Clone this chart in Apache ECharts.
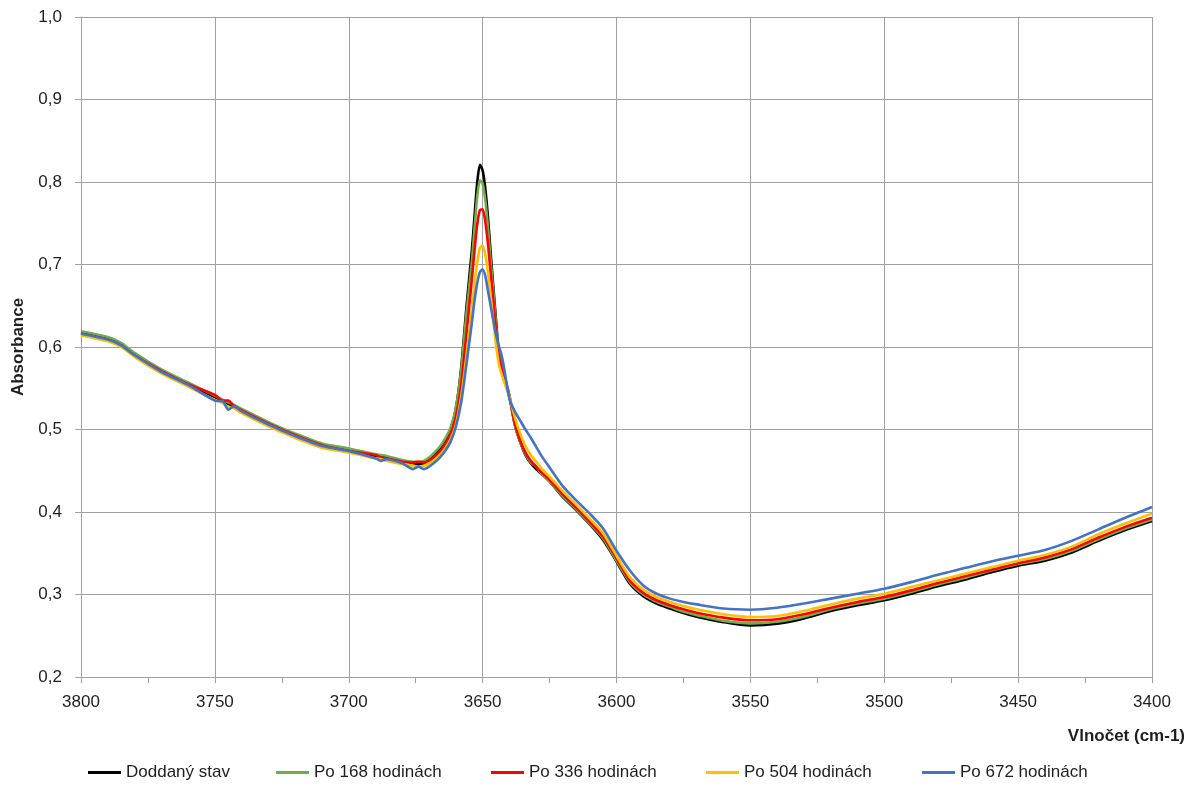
<!DOCTYPE html>
<html>
<head>
<meta charset="utf-8">
<title>Absorbance spectra</title>
<script src="https://cdn.jsdelivr.net/npm/echarts@6/dist/echarts.min.js"></script>
<style>
  html, body { margin: 0; padding: 0; background: #ffffff; }
  #chart { width: 1204px; height: 787px; }
</style>
</head>
<body>
<div id="chart"></div>
<script>
// Wavenumbers (cm-1) shared by all spectra
const wavenumbers = [
  3800, 3790, 3785, 3780, 3770, 3760, 3750, 3747, 3745, 3743, 3740, 3730, 3720, 3710, 3700,
  3690, 3688, 3686, 3680, 3676, 3674, 3672, 3670, 3668, 3666, 3664, 3662, 3660, 3658, 3656,
  3654, 3653, 3652, 3651, 3650, 3649, 3648, 3647, 3646, 3645, 3644, 3643, 3642, 3641, 3640,
  3638, 3636, 3634, 3632, 3630, 3628, 3625, 3620, 3615, 3610, 3605, 3600, 3595, 3590, 3585,
  3580, 3575, 3570, 3560, 3550, 3540, 3530, 3520, 3510, 3500, 3490, 3480, 3470, 3460, 3450,
  3440, 3430, 3420, 3410, 3400
];

const seriesNames = ['Doddaný stav', 'Po 168 hodinách', 'Po 336 hodinách', 'Po 504 hodinách', 'Po 672 hodinách'];

const doddanyStav = [
  .617, .610, .603, .591, .571, .555, .539, .534, .531, .528, .523, .507, .493, .481, .475,
  .468, .467, .466, .462, .459, .458, .459, .464, .470, .477, .487, .500, .525, .575, .650,
  .718, .760, .800, .821, .814, .792, .757, .714, .673, .633, .595, .580, .567, .554, .541,
  .506, .485, .469, .459, .452, .446, .437, .418, .402, .385, .366, .340, .313, .298, .289,
  .283, .2775, .273, .2665, .2625, .2645, .271, .280, .287, .293, .301, .310, .318, .327, .335,
  .341, .351, .365, .378, .389
];

const po168 = [
  .619, .612, .605, .593, .573, .557, .541, .536, .533, .530, .525, .509, .495, .483, .477,
  .470, .469, .468, .463, .461, .461, .462, .466, .472, .479, .489, .502, .526, .572, .642,
  .705, .745, .783, .802, .798, .778, .745, .705, .667, .628, .593, .578, .566, .553, .541,
  .506, .485, .470, .460, .455, .446, .437, .419, .403, .386, .368, .341, .315, .300, .291,
  .285, .279, .275, .268, .265, .267, .273, .282, .289, .295, .303, .312, .320, .329, .337,
  .343, .353, .367, .380, .391
];

const po336 = [
  .616, .609, .602, .590, .571, .555, .542, .535, .535, .529, .523, .507, .493, .481, .474,
  .469, .466, .465, .461, .460, .461, .460, .462, .467, .473, .482, .494, .515, .555, .617,
  .683, .718, .749, .766, .767, .752, .725, .690, .655, .620, .590, .575, .563, .551, .540,
  .508, .487, .472, .462, .455, .448, .439, .421, .405, .388, .370, .344, .317, .302, .293,
  .287, .282, .278, .272, .2687, .270, .276, .284, .291, .297, .305, .314, .322, .330, .338,
  .345, .355, .369, .382, .393
];

const po504 = [
  .614, .607, .600, .588, .568, .552, .536, .532, .527, .526, .520, .504, .490, .478, .472,
  .465, .464, .462, .458, .456, .455, .456, .459, .463, .469, .477, .488, .506, .540, .590,
  .647, .677, .703, .720, .723, .712, .690, .662, .632, .603, .580, .568, .558, .549, .540,
  .515, .495, .480, .469, .461, .453, .443, .425, .409, .392, .374, .347, .321, .306, .297,
  .291, .286, .282, .276, .2726, .274, .280, .288, .295, .301, .309, .317, .325, .333, .341,
  .348, .358, .373, .386, .398
];

const po672 = [
  .616, .609, .602, .590, .570, .554, .535, .534, .524, .528, .522, .506, .492, .480, .474,
  .465, .462, .464, .459, .452, .455, .452, .455, .460, .466, .474, .485, .503, .533, .580,
  .630, .657, .678, .691, .694, .686, .668, .650, .632, .615, .602, .591, .575, .555, .537,
  .522, .511, .500, .490, .479, .468, .454, .431, .414, .398, .380, .353, .329, .311, .301,
  .295, .291, .288, .283, .2816, .284, .289, .295, .301, .307, .315, .324, .332, .340, .347,
  .354, .365, .379, .393, .406
];

const seriesValues = [doddanyStav, po168, po336, po504, po672];
const seriesColors = ['#000000', '#70AD47', '#FF0000', '#FFC000', '#4472C4'];

// Legend entry x-positions along the bottom
const legendLefts = [88, 276, 491, 706, 922];

const FONT = 'Liberation Sans, Arial, sans-serif';
const GRID_COLOR = '#a0a0a0';
const TEXT_COLOR = '#1e1e1e';

const chart = echarts.init(document.getElementById('chart'), null, { renderer: 'canvas' });

const series = seriesNames.map((name, i) => ({
  name: name,
  type: 'line',
  data: wavenumbers.map((w, k) => [w, seriesValues[i][k]]),
  showSymbol: false,
  symbol: 'none',
  smooth: 0.25,
  lineStyle: { color: seriesColors[i], width: 2.6 },
  itemStyle: { color: seriesColors[i] },
  emphasis: { disabled: true },
  z: 2 + i
}));

const legends = seriesNames.map((name, i) => ({
  data: [name],
  left: legendLefts[i],
  top: 764,
  icon: 'rect',
  itemWidth: 33,
  itemHeight: 3,
  itemGap: 0,
  textStyle: { fontFamily: FONT, fontSize: 17, color: TEXT_COLOR, padding: [0, 0, 0, 0] },
  selectedMode: false,
  padding: 0
}));

chart.setOption({
  animation: false,
  backgroundColor: '#ffffff',
  grid: { left: 81, right: 52, top: 17, bottom: 110, containLabel: false, outerBoundsMode: 'none' },
  legend: legends,
  xAxis: {
    type: 'value',
    inverse: true,
    min: 3400,
    max: 3800,
    interval: 50,
    axisLine: { show: true, lineStyle: { color: GRID_COLOR, width: 1 } },
    axisTick: { show: true, inside: false, length: 6, lineStyle: { color: GRID_COLOR } },
    minorTick: { show: true, splitNumber: 2, length: 6, lineStyle: { color: GRID_COLOR } },
    splitLine: { show: true, lineStyle: { color: GRID_COLOR, width: 1 } },
    axisLabel: { fontFamily: FONT, fontSize: 17, color: TEXT_COLOR, margin: 17, formatter: v => String(v) }
  },
  yAxis: {
    type: 'value',
    min: 0.2,
    max: 1.0,
    interval: 0.1,
    name: 'Absorbance',
    nameLocation: 'middle',
    nameRotate: 90,
    nameGap: 54,
    nameTextStyle: { fontFamily: FONT, fontSize: 17, fontWeight: 'bold', color: TEXT_COLOR },
    axisLine: { show: true, lineStyle: { color: GRID_COLOR, width: 1 } },
    axisTick: { show: true, inside: false, length: 6, lineStyle: { color: GRID_COLOR } },
    splitLine: { show: true, lineStyle: { color: GRID_COLOR, width: 1 } },
    axisLabel: {
      fontFamily: FONT, fontSize: 17, color: TEXT_COLOR, margin: 19,
      formatter: v => v.toFixed(1).replace('.', ',')
    }
  },
  graphic: [{
    type: 'text',
    right: 19,
    top: 728,
    style: {
      text: 'Vlnočet (cm-1)',
      font: 'bold 17px ' + FONT,
      fill: TEXT_COLOR
    }
  }],
  series: series
});
</script>
</body>
</html>
